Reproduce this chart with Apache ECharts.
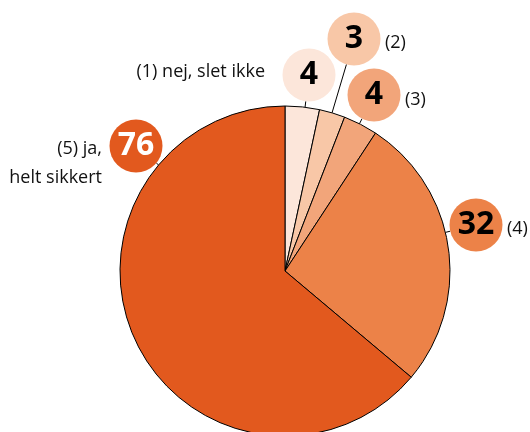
<!DOCTYPE html>
<html>
<head>
<meta charset="utf-8">
<script src="https://cdn.jsdelivr.net/npm/echarts@6/dist/echarts.min.js"></script>
<style>
  html, body { margin: 0; padding: 0; background: #fff; }
  #chart { width: 530px; height: 432px; }
</style>
</head>
<body>
<div id="chart"></div>
<script>
// data
const categories = ['(1) nej, slet ikke', '(2)', '(3)', '(4)', '(5) ja,\nhelt sikkert'];
const values = [4, 3, 4, 32, 76];
const colors = ['#fce6da', '#f8c7a7', '#f2a57a', '#ec8248', '#e2591e'];
const numberColors = ['#000', '#000', '#000', '#000', '#fff'];

// layout: pie geometry, number bubbles and side texts
const pieCenter = [285, 271];
const pieRadius = 165;
const bubbleRadius = 26.5;
const bubblePos = [[309, 75], [354, 39], [374, 95], [476, 225], [136, 146]];
const textPos = [[265, 72, 'right'], [385, 43, 'left'], [405, 100, 'left'], [507, 229, 'left'], [102, 163, 'right']];

const font = '"Open Sans", "Noto Sans", sans-serif';

const pieData = values.map((v, i) => {
    return {
        name: categories[i],
        value: v,
        itemStyle: { color: colors[i] },
        label: { color: numberColors[i], backgroundColor: colors[i] }
    }
})

const textData = values.map((v, i) => {
    return { name: categories[i], value: v }
})

// leader line: radial from the pie centre, from the rim to the bubble edge
const leader = (b) => {
    const dx = b[0] - pieCenter[0], dy = b[1] - pieCenter[1]
    const d = Math.sqrt(dx * dx + dy * dy)
    const ux = dx / d, uy = dy / d
    const rim = [pieCenter[0] + ux * pieRadius, pieCenter[1] + uy * pieRadius]
    const edge = [b[0] - ux * bubbleRadius, b[1] - uy * bubbleRadius]
    return [rim, edge, edge]
}

const myChart = echarts.init(document.getElementById('chart'), null, { renderer: 'canvas' });

myChart.setOption({
    animation: false,
    series: [
        {
            // text labels next to the bubbles
            type: 'pie',
            center: pieCenter,
            radius: pieRadius,
            silent: true,
            avoidLabelOverlap: false,
            data: textData,
            itemStyle: { color: 'rgba(0,0,0,0)', borderWidth: 0 },
            label: {
                show: true,
                position: 'outside',
                formatter: '{b}',
                fontFamily: font,
                fontSize: 18,
                lineHeight: 29,
                color: '#111'
            },
            labelLine: { show: false },
            labelLayout: (params) => {
                const p = textPos[params.dataIndex]
                return { x: p[0], y: p[1], align: p[2], verticalAlign: 'middle' }
            }
        },
        {
            type: 'pie',
            center: pieCenter,
            radius: pieRadius,
            silent: true,
            avoidLabelOverlap: false,
            data: pieData,
            itemStyle: { borderColor: '#000', borderWidth: 1 },
            label: {
                show: true,
                position: 'outside',
                formatter: '{c}',
                fontFamily: font,
                fontWeight: 'bold',
                fontSize: 32,
                width: 53,
                height: 53,
                lineHeight: 53,
                align: 'center',
                borderRadius: 27,
                padding: 0
            },
            labelLine: {
                show: true,
                length: 6,
                length2: 0,
                lineStyle: { color: '#000', width: 1 }
            },
            labelLayout: (params) => {
                const p = bubblePos[params.dataIndex]
                return {
                    x: p[0], y: p[1], align: 'center', verticalAlign: 'middle',
                    labelLinePoints: leader(p)
                }
            }
        }
    ]
});
</script>
</body>
</html>
